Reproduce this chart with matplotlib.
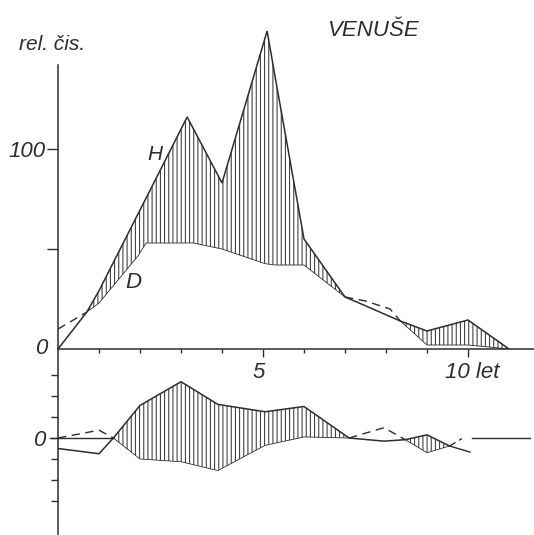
import numpy as np
import matplotlib
matplotlib.use("Agg")
import matplotlib.pyplot as plt

# ---------------- data ----------------
# upper panel: relative numbers, H (solid) and D (dashed), years on x
up_x = [0, 0.7, 1.0, 1.95, 2.15, 3.15, 3.3, 4.0, 5.0, 5.1, 5.3, 6.0, 7.0, 7.5, 8.1, 8.35, 9.0, 10.0, 11.0]
H = [0, 18.4, 29.1, 67.5, 75.5, 116, 110.2, 83, 152, 159, 135.6, 55, 26, 21.6, 16.2, 14, 9, 14.5, 0]
D = [10, 18.4, 23, 46.5, 53, 53, 53, 50, 43, 42.5, 42, 42, 26, 24, 20, 14, 2, 2, 0]

# lower panel: deviations, S (solid) and T (dashed)
lo_x = [0, 1.0, 1.35, 2.0, 3.0, 3.9, 5.05, 6.0, 7.1, 7.95, 8.47, 9.0, 9.55]
S = [-5, -7.5, 0, 15.5, 26.8, 16, 12.5, 15, 0, -1.5, -0.8, 1.5, -3.8]
T = [0, 3.7, 0, -10, -11.3, -15.5, -3.5, 0.5, 0, 4.9, -0.8, -7, -3.8]
S_tail_x = [9.55, 10.05]
S_tail = [-3.8, -6.7]
T_tail_x = [9.55, 9.85]
T_tail = [-3.8, -0.3]
zero_segments = [(-0.2, 1.35), (10.1, 11.5)]

x_ticks = [1, 2, 3, 4, 5, 6, 7, 8, 9, 10]
x_labels = {5: "5", 10: "10 let"}
up_yticks = [50, 100]
up_ylabels = ["", "100"]
lo_yticks = [-30, -20, -10, 0, 10, 20, 30]
lo_ylabels = ["", "", "", "0", "", "", ""]

# ---------------- style ----------------
INK = "#2e2e2e"
HATCH = "#383838"
plt.rcParams["hatch.color"] = HATCH
plt.rcParams["hatch.linewidth"] = 0.75
FONT = ["Liberation Sans", "DejaVu Sans"]
plt.rcParams["font.family"] = FONT
TXT = dict(style="italic", color=INK)

fig = plt.figure(figsize=(5.34, 5.35), dpi=100)
fig.patch.set_facecolor("white")
L = 58 / 534
W = 476 / 534
axU = fig.add_axes([L, 186 / 535, W, 339 / 535])
axL = fig.add_axes([L, 0, W, 186 / 535])
xmax = 476 / 41
for ax in (axU, axL):
    ax.set_xlim(0, xmax)
    ax.set_facecolor("none")
    for s in ("top", "right"):
        ax.spines[s].set_visible(False)
    ax.spines["left"].set_color(INK)
    ax.spines["left"].set_linewidth(1.1)
axU.set_ylim(0, 339 / 2)
axL.set_ylim(-(535 - 438) / 2.1, (438 - 349) / 2.1)

HP = "||||"

# ---------- upper panel ----------
ux = np.array(up_x)
h = np.array(H)
d = np.array(D)
axU.fill_between(ux, d, h, where=h >= d, facecolor="none", edgecolor=HATCH,
                 hatch=HP, linewidth=0)
axU.plot(ux, h, color=INK, lw=1.1, solid_joinstyle="miter")
d_dash = np.ma.masked_where(d < h, d)
d_sol = np.ma.masked_where(d > h, d)
axU.plot(ux, d_dash, color=INK, lw=1.0, dashes=(6, 4))
axU.plot(ux, d_sol, color=INK, lw=0.6)

axU.spines["bottom"].set_color(INK)
axU.spines["bottom"].set_linewidth(1.1)
axU.spines["left"].set_bounds(0, 142)
axU.set_xticks([t for t in x_ticks if t in x_labels])
axU.set_xticks([t for t in x_ticks if t not in x_labels], minor=True)
axU.set_xticklabels([])
axU.tick_params(axis="x", which="major", direction="out", length=6, width=1, color=INK)
axU.tick_params(axis="x", which="minor", direction="out", length=3, width=1, color=INK)
axU.set_yticks(up_yticks)
axU.set_yticklabels(up_ylabels)
axU.tick_params(axis="y", direction="out", length=8, width=1, color=INK, pad=1,
                labelsize=16, labelcolor=INK)
for lab in axU.get_yticklabels():
    lab.set_style("italic")

for xv, lab in x_labels.items():
    if lab == "5":
        axU.text(xv - 0.1, -11.5, lab, ha="center", va="center", fontsize=16, clip_on=False, **TXT)
    else:
        axU.text(9.44, -11.5, lab, ha="left", va="center", fontsize=16, clip_on=False, **TXT)

axU.text(-0.27, 0, "0", ha="right", va="center", fontsize=16, clip_on=False, **TXT)
axU.text(2.37, 97.5, "H", ha="center", va="center", fontsize=15, **TXT)
axU.text(1.83, 33.5, "D", ha="center", va="center", fontsize=16, **TXT)
axU.text(7.68, 159, "VENUŠE", ha="center", va="center", fontsize=16, **TXT)
axU.text(-0.15, 152, "rel. čis.", ha="center", va="center", fontsize=15, clip_on=False, **TXT)

# ---------- lower panel ----------
lx = np.array(lo_x)
s = np.array(S)
t = np.array(T)
axL.fill_between(lx, t, s, where=s >= t, facecolor="none", edgecolor=HATCH,
                 hatch=HP, linewidth=0)
axL.plot(lx, s, color=INK, lw=1.1)
axL.plot(S_tail_x, S_tail, color=INK, lw=1.0)
t_dash = np.ma.masked_where(t < s, t)
t_sol = np.ma.masked_where(t > s, t)
axL.plot(lx, t_dash, color=INK, lw=1.0, dashes=(6, 4))
axL.plot(lx, t_sol, color=INK, lw=0.6)
axL.plot(T_tail_x, T_tail, color=INK, lw=1.0, dashes=(5, 3))
for a, b in zero_segments:
    axL.plot([a, b], [0, 0], color=INK, lw=1.0, clip_on=False)

axL.spines["bottom"].set_visible(False)
axL.set_xticks([])
axL.set_yticks(lo_yticks)
axL.set_yticklabels(lo_ylabels)
axL.tick_params(axis="y", direction="out", length=5, width=1, color=INK, pad=4,
                labelsize=16, labelcolor=INK)
for lab in axL.get_yticklabels():
    lab.set_style("italic")

fig.savefig("out.png", dpi=100, facecolor="white")
